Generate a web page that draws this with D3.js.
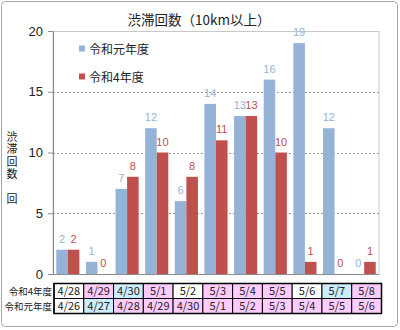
<!DOCTYPE html>
<html><head><meta charset="utf-8">
<script src="https://cdn.jsdelivr.net/npm/d3@7"></script>
<style>body{margin:0;background:#fff;} svg{display:block;}</style>
</head><body>
<script>
const categories = ["c1","c2","c3","c4","c5","c6","c7","c8","c9","c10","c11"];
const seriesNames = ["令和元年度","令和4年度"];
const valuesR1 = [2,1,7,12,6,14,13,16,19,12,0];
const valuesR4 = [2,0,8,10,8,11,13,10,1,0,1];
const yTicks = [0,5,10,15,20];
const rowLabels = ["令和4年度","令和元年度"];
const datesR4 = ["4/28","4/29","4/30","5/1","5/2","5/3","5/4","5/5","5/6","5/7","5/8"];
const datesR1 = ["4/26","4/27","4/28","4/29","4/30","5/1","5/2","5/3","5/4","5/5","5/6"];
const kindR4 = ["w","p","b","p","w","p","p","p","w","b","p"];
const kindR1 = ["w","b","p","p","p","p","p","p","p","p","p"];
const title = "渋滞回数（10km以上）";
const yTitle = "渋滞回数";
const yUnit = "回";

(function(){
const W=400,H=330;
const colors = ["#95b3d7","#c0504d"];
const labelColors = ["#95b3d7","#c0504d"];
const cellFill = {w:"#ffffff",p:"#ffccff",b:"#ccecff"};
const font = "'Noto Sans CJK JP', 'Noto Sans', sans-serif";

const svg = d3.select("body").append("svg").attr("width",W).attr("height",H)
  .style("font-family",font);

svg.append("rect").attr("x",1.5).attr("y",1.5).attr("width",396).attr("height",325)
  .attr("rx",4).attr("fill","#fff").attr("stroke","#a6a6a6");

const pl=53,pr=379,pt=31,pb=274;
const x = d3.scaleBand().domain(categories).range([pl,pr]).paddingInner(0.22).paddingOuter(0.11);
const x1 = d3.scaleBand().domain(seriesNames).range([0,x.bandwidth()]);
const y = d3.scaleLinear().domain([0,20]).range([pb,pt]);

svg.append("rect").attr("x",pl).attr("y",pt+0.5).attr("width",pr-pl).attr("height",pb-pt)
  .attr("fill","none").attr("stroke","#c8c8c8");

svg.append("g").selectAll("line").data(yTicks.filter(t=>t>0&&t<20)).join("line")
  .attr("x1",pl).attr("x2",pr).attr("y1",d=>Math.round(y(d))+0.5).attr("y2",d=>Math.round(y(d))+0.5)
  .attr("stroke","#9a9a9a").attr("stroke-dasharray","2,2");

const yAxis = d3.axisLeft(y).tickValues(yTicks).tickSize(5).tickPadding(5);
const gy = svg.append("g").attr("transform",`translate(${pl},0)`).call(yAxis);
gy.select(".domain").attr("stroke","#8c8c8c");
gy.selectAll(".tick line").attr("stroke","#8c8c8c");
gy.selectAll("text").attr("font-size",13).attr("fill","#222").style("font-family","'Liberation Sans', Arial, sans-serif");

svg.append("line").attr("x1",pl).attr("x2",pr).attr("y1",pb+0.5).attr("y2",pb+0.5).attr("stroke","#8c8c8c");

const series = [valuesR1, valuesR4];
const groups = svg.append("g").selectAll("g").data(categories).join("g")
  .attr("transform",d=>`translate(${x(d)},0)`);
groups.selectAll("rect").data((d,i)=>series.map((s,k)=>({k,v:s[i]}))).join("rect")
  .attr("x",d=>x1(seriesNames[d.k])).attr("width",x1.bandwidth())
  .attr("y",d=>y(d.v)).attr("height",d=>y(0)-y(d.v)).attr("fill",d=>colors[d.k]);
groups.selectAll("text").data((d,i)=>series.map((s,k)=>({k,v:s[i]}))).join("text")
  .attr("x",d=>x1(seriesNames[d.k])+x1.bandwidth()/2).attr("y",d=>y(d.v)-7)
  .attr("text-anchor","middle").attr("font-size",11).attr("fill",d=>labelColors[d.k])
  .style("font-family","'Liberation Sans', Arial, sans-serif")
  .text(d=>d.v);

const lg = svg.append("g");
seriesNames.forEach((n,i)=>{
  const ly = [49,77][i];
  lg.append("rect").attr("x",79).attr("y",ly-3.5).attr("width",6).attr("height",6).attr("fill",colors[i]);
  lg.append("text").attr("x",89).attr("y",ly+4.5).attr("font-size",12).attr("fill","#222").text(n);
});

svg.append("text").attr("x",199).attr("y",25).attr("text-anchor","middle").attr("font-size",13.5)
  .attr("fill","#222").text(title);

svg.append("text").attr("x",12).attr("y",131)
  .style("writing-mode","vertical-rl").style("letter-spacing","1.5px")
  .attr("font-size",11).attr("fill","#222").text(yTitle);
svg.append("text").attr("x",12).attr("y",193)
  .style("writing-mode","vertical-rl")
  .attr("font-size",11).attr("fill","#222").text(yUnit);

const tx = d3.scaleBand().domain(categories).range([54,381.5]);
const rows = [{dates:datesR4,kind:kindR4},{dates:datesR1,kind:kindR1}];
const rowY = [283.5,298.5], rowH = 15;
rows.forEach((r,ri)=>{
  const g = svg.append("g");
  g.selectAll("rect").data(categories).join("rect")
    .attr("x",d=>tx(d)).attr("y",rowY[ri]).attr("width",tx.bandwidth()).attr("height",rowH)
    .attr("fill",(d,i)=>cellFill[r.kind[i]]).attr("stroke","#000").attr("stroke-width",1);
  g.selectAll("text").data(categories).join("text")
    .attr("x",d=>tx(d)+tx.bandwidth()/2).attr("y",rowY[ri]+11.5).attr("text-anchor","middle")
    .attr("font-size",11).attr("fill","#222").text((d,i)=>r.dates[i]);
  svg.append("text").attr("x",52).attr("y",rowY[ri]+11).attr("text-anchor","end")
    .attr("font-size",9.5).attr("fill","#222").text(rowLabels[ri]);
});
svg.append("rect").attr("x",54).attr("y",283.5).attr("width",381.5-54).attr("height",30)
  .attr("fill","none").attr("stroke","#000").attr("stroke-width",1.5);
})();
</script>
</body></html>
